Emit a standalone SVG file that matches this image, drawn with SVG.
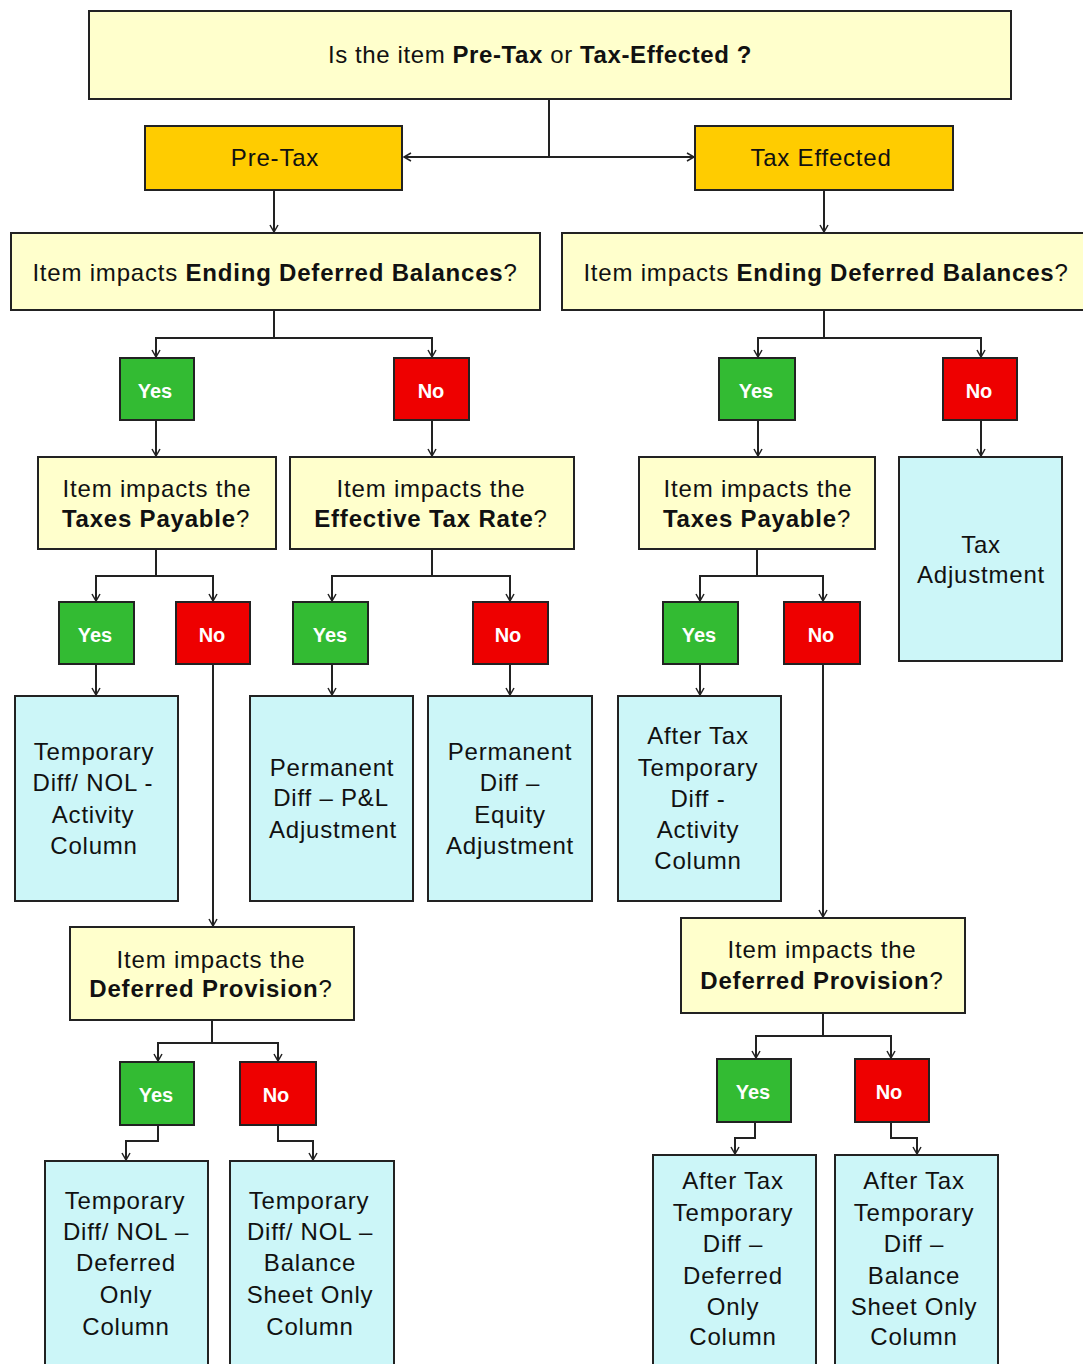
<svg xmlns="http://www.w3.org/2000/svg" width="1083" height="1364" viewBox="0 0 1083 1364">
<defs>
<style>
.q{fill:#FFFFCC;stroke:#222;stroke-width:2}
.g{fill:#FFCC00;stroke:#222;stroke-width:2}
.y{fill:#33BB33;stroke:#222;stroke-width:2}
.n{fill:#EE0000;stroke:#222;stroke-width:2}
.r{fill:#CCF6F8;stroke:#222;stroke-width:2}
text{font-family:"Liberation Sans",Arial,sans-serif;font-size:24px;fill:#111;text-anchor:middle;letter-spacing:0.8px}
.t{font-size:24px;letter-spacing:0.6px}
.yn{font-size:20px;font-weight:bold;fill:#fff;letter-spacing:0}
.b{font-weight:bold}
.c{fill:none;stroke:#222;stroke-width:2}
</style>
<marker id="a" markerWidth="10" markerHeight="10" refX="8" refY="5" orient="auto" markerUnits="userSpaceOnUse">
<path d="M1,1 L8,5 L1,9" fill="none" stroke="#222" stroke-width="1.5"/>
</marker>
</defs>
<rect width="1083" height="1364" fill="#fff"/>
<g id="connectors" class="c">
<path d="M549,99 V157"/>
<path d="M549,157 H404" marker-end="url(#a)"/>
<path d="M549,157 H694" marker-end="url(#a)"/>
<path d="M274,190 V232" marker-end="url(#a)"/>
<path d="M824,190 V232" marker-end="url(#a)"/>
<path d="M274,310 V338 H156 V357" marker-end="url(#a)"/>
<path d="M274,338 H432 V357" marker-end="url(#a)"/>
<path d="M824,310 V338 H758 V357" marker-end="url(#a)"/>
<path d="M824,338 H981 V357" marker-end="url(#a)"/>
<path d="M156,420 V456" marker-end="url(#a)"/>
<path d="M432,420 V456" marker-end="url(#a)"/>
<path d="M758,420 V456" marker-end="url(#a)"/>
<path d="M981,420 V456" marker-end="url(#a)"/>
<path d="M156,549 V576 H96 V601" marker-end="url(#a)"/>
<path d="M156,576 H213 V601" marker-end="url(#a)"/>
<path d="M432,549 V576 H332 V601" marker-end="url(#a)"/>
<path d="M432,576 H510 V601" marker-end="url(#a)"/>
<path d="M757,549 V576 H700 V601" marker-end="url(#a)"/>
<path d="M757,576 H823 V601" marker-end="url(#a)"/>
<path d="M96,664 V695" marker-end="url(#a)"/>
<path d="M213,664 V926" marker-end="url(#a)"/>
<path d="M332,664 V695" marker-end="url(#a)"/>
<path d="M510,664 V695" marker-end="url(#a)"/>
<path d="M700,664 V695" marker-end="url(#a)"/>
<path d="M823,664 V917" marker-end="url(#a)"/>
<path d="M212,1020 V1043 H158 V1061" marker-end="url(#a)"/>
<path d="M212,1043 H278 V1061" marker-end="url(#a)"/>
<path d="M158,1125 V1141 H126 V1160" marker-end="url(#a)"/>
<path d="M278,1125 V1141 H313 V1160" marker-end="url(#a)"/>
<path d="M823,1013 V1036 H756 V1058" marker-end="url(#a)"/>
<path d="M823,1036 H891 V1058" marker-end="url(#a)"/>
<path d="M755,1122 V1138 H735 V1154" marker-end="url(#a)"/>
<path d="M891,1122 V1138 H917 V1154" marker-end="url(#a)"/>
</g>
<g id="top">
<rect class="q" x="89" y="11" width="922" height="88"/>
<text class="t" x="540" y="63">Is the item <tspan class="b">Pre-Tax</tspan> or <tspan class="b">Tax-Effected ?</tspan></text>
</g>
<g id="pretax"><rect class="g" x="145" y="126" width="257" height="64"/><text x="275" y="166">Pre-Tax</text></g>
<g id="taxeffected"><rect class="g" x="695" y="126" width="258" height="64"/><text x="821" y="166">Tax Effected</text></g>
<g id="edb-left"><rect class="q" x="11" y="233" width="529" height="77"/><text x="275" y="281">Item impacts <tspan class="b">Ending Deferred Balances</tspan>?</text></g>
<g id="edb-right"><rect class="q" x="562" y="233" width="530" height="77"/><text x="826" y="281">Item impacts <tspan class="b">Ending Deferred Balances</tspan>?</text></g>
<g id="yes1"><rect class="y" x="120" y="358" width="74" height="62"/><text class="yn" x="155" y="398">Yes</text></g>
<g id="no1"><rect class="n" x="394" y="358" width="75" height="62"/><text class="yn" x="431" y="398">No</text></g>
<g id="yes2"><rect class="y" x="719" y="358" width="76" height="62"/><text class="yn" x="756" y="398">Yes</text></g>
<g id="no2"><rect class="n" x="943" y="358" width="74" height="62"/><text class="yn" x="979" y="398">No</text></g>
<g id="tp-left"><rect class="q" x="38" y="457" width="238" height="92"/><text x="157" y="497">Item impacts the</text><text x="156" y="527"><tspan class="b">Taxes Payable</tspan>?</text></g>
<g id="etr"><rect class="q" x="290" y="457" width="284" height="92"/><text x="431" y="497">Item impacts the</text><text x="431" y="527"><tspan class="b">Effective Tax Rate</tspan>?</text></g>
<g id="tp-right"><rect class="q" x="639" y="457" width="236" height="92"/><text x="758" y="497">Item impacts the</text><text x="757" y="527"><tspan class="b">Taxes Payable</tspan>?</text></g>
<g id="taxadj"><rect class="r" x="899" y="457" width="163" height="204"/><text x="981" y="553">Tax</text><text x="981" y="583">Adjustment</text></g>
<g id="yes3"><rect class="y" x="59" y="602" width="75" height="62"/><text class="yn" x="95" y="642">Yes</text></g>
<g id="no3"><rect class="n" x="176" y="602" width="74" height="62"/><text class="yn" x="212" y="642">No</text></g>
<g id="yes4"><rect class="y" x="293" y="602" width="75" height="62"/><text class="yn" x="330" y="642">Yes</text></g>
<g id="no4"><rect class="n" x="473" y="602" width="75" height="62"/><text class="yn" x="508" y="642">No</text></g>
<g id="yes5"><rect class="y" x="663" y="602" width="75" height="62"/><text class="yn" x="699" y="642">Yes</text></g>
<g id="no5"><rect class="n" x="784" y="602" width="76" height="62"/><text class="yn" x="821" y="642">No</text></g>
<g id="td-activity"><rect class="r" x="15" y="696" width="163" height="205"/><text x="94" y="760">Temporary</text><text x="93" y="791">Diff/ NOL -</text><text x="93" y="823">Activity</text><text x="94" y="854">Column</text></g>
<g id="perm-pl"><rect class="r" x="250" y="696" width="163" height="205"/><text x="332" y="776">Permanent</text><text x="331" y="806">Diff – P&amp;L</text><text x="333" y="838">Adjustment</text></g>
<g id="perm-eq"><rect class="r" x="428" y="696" width="164" height="205"/><text x="510" y="760">Permanent</text><text x="510" y="791">Diff –</text><text x="510" y="823">Equity</text><text x="510" y="854">Adjustment</text></g>
<g id="at-activity"><rect class="r" x="618" y="696" width="163" height="205"/><text x="698" y="744">After Tax</text><text x="698" y="776">Temporary</text><text x="698" y="807">Diff -</text><text x="698" y="838">Activity</text><text x="698" y="869">Column</text></g>
<g id="dp-left"><rect class="q" x="70" y="927" width="284" height="93"/><text x="211" y="968">Item impacts the</text><text x="211" y="997"><tspan class="b">Deferred Provision</tspan>?</text></g>
<g id="dp-right"><rect class="q" x="681" y="918" width="284" height="95"/><text x="822" y="958">Item impacts the</text><text x="822" y="989"><tspan class="b">Deferred Provision</tspan>?</text></g>
<g id="yes6"><rect class="y" x="120" y="1062" width="74" height="63"/><text class="yn" x="156" y="1102">Yes</text></g>
<g id="no6"><rect class="n" x="240" y="1062" width="76" height="63"/><text class="yn" x="276" y="1102">No</text></g>
<g id="yes7"><rect class="y" x="717" y="1059" width="74" height="63"/><text class="yn" x="753" y="1099">Yes</text></g>
<g id="no7"><rect class="n" x="855" y="1059" width="74" height="63"/><text class="yn" x="889" y="1099">No</text></g>
<g id="td-deferred"><rect class="r" x="45" y="1161" width="163" height="210"/><text x="125" y="1209">Temporary</text><text x="126" y="1240">Diff/ NOL –</text><text x="126" y="1271">Deferred</text><text x="126" y="1303">Only</text><text x="126" y="1335">Column</text></g>
<g id="td-bs"><rect class="r" x="230" y="1161" width="164" height="210"/><text x="309" y="1209">Temporary</text><text x="310" y="1240">Diff/ NOL –</text><text x="310" y="1271">Balance</text><text x="310" y="1303">Sheet Only</text><text x="310" y="1335">Column</text></g>
<g id="at-deferred"><rect class="r" x="653" y="1155" width="163" height="215"/><text x="733" y="1189">After Tax</text><text x="733" y="1221">Temporary</text><text x="733" y="1252">Diff –</text><text x="733" y="1284">Deferred</text><text x="733" y="1315">Only</text><text x="733" y="1345">Column</text></g>
<g id="at-bs"><rect class="r" x="835" y="1155" width="163" height="215"/><text x="914" y="1189">After Tax</text><text x="914" y="1221">Temporary</text><text x="914" y="1252">Diff –</text><text x="914" y="1284">Balance</text><text x="914" y="1315">Sheet Only</text><text x="914" y="1345">Column</text></g>
</svg>
